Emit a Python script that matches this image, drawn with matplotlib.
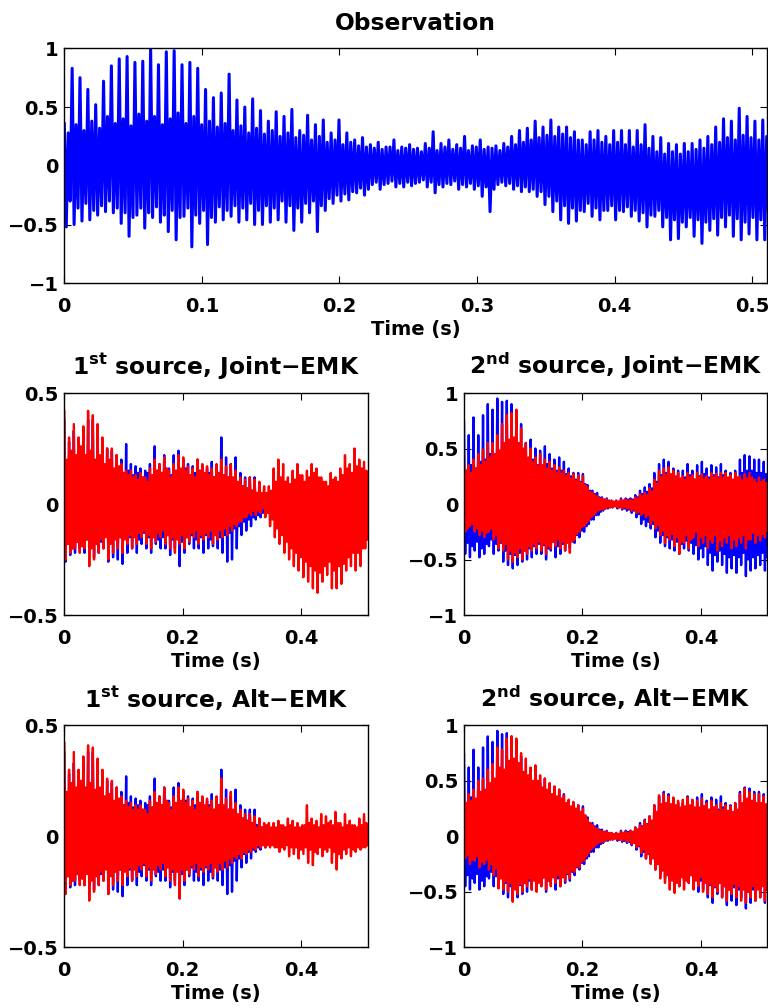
import numpy as np
import matplotlib.pyplot as plt
from matplotlib.ticker import FixedLocator, FuncFormatter

plt.rcParams['font.family'] = 'DejaVu Sans'
plt.rcParams['font.weight'] = 'bold'
plt.rcParams['font.size'] = 14
plt.rcParams['mathtext.fontset'] = 'dejavusans'

DUR = 0.512  # seconds of signal

# each series: per pitch period, main pulse tip (hi/lo) and secondary swing (hi2/lo2)

# ---- observation
obs_hi = [0.36, 0.83, 0.75, 0.65, 0.52, 0.72, 0.85, 0.91, 0.93, 0.88,
          0.89, 1.00, 0.86, 0.97, 0.98, 0.86, 0.88, 0.83, 0.65, 0.58,
          0.62, 0.78, 0.56, 0.50, 0.57, 0.47, 0.38, 0.46, 0.42, 0.48,
          0.30, 0.43, 0.35, 0.39, 0.28, 0.39, 0.28, 0.22, 0.24, 0.18,
          0.20, 0.16, 0.22, 0.16, 0.18, 0.15, 0.19, 0.29, 0.19, 0.22,
          0.18, 0.25, 0.17, 0.22, 0.16, 0.17, 0.19, 0.25, 0.30, 0.32,
          0.38, 0.33, 0.39, 0.33, 0.33, 0.29, 0.22, 0.29, 0.30, 0.25,
          0.30, 0.30, 0.30, 0.30, 0.35, 0.25, 0.24, 0.19, 0.18, 0.19,
          0.19, 0.22, 0.25, 0.33, 0.40, 0.38, 0.49, 0.42, 0.38, 0.39]
obs_lo = [-0.52, -0.50, -0.47, -0.46, -0.42, -0.39, -0.40, -0.49, -0.60, -0.42,
          -0.53, -0.44, -0.48, -0.56, -0.63, -0.43, -0.69, -0.49, -0.67, -0.48,
          -0.46, -0.43, -0.48, -0.46, -0.50, -0.50, -0.48, -0.46, -0.48, -0.55,
          -0.48, -0.40, -0.56, -0.38, -0.32, -0.30, -0.29, -0.23, -0.25, -0.16,
          -0.20, -0.15, -0.18, -0.18, -0.17, -0.14, -0.18, -0.23, -0.18, -0.16,
          -0.20, -0.18, -0.20, -0.26, -0.39, -0.16, -0.17, -0.20, -0.22, -0.22,
          -0.26, -0.33, -0.39, -0.46, -0.49, -0.47, -0.39, -0.43, -0.46, -0.38,
          -0.46, -0.39, -0.43, -0.47, -0.52, -0.43, -0.52, -0.63, -0.62, -0.52,
          -0.60, -0.66, -0.55, -0.59, -0.52, -0.60, -0.63, -0.58, -0.63, -0.63]
obs_hi2 = [0.28, 0.35, 0.30, 0.38, 0.32, 0.42, 0.36, 0.40, 0.34, 0.44,
           0.38, 0.42, 0.35, 0.40, 0.45, 0.36, 0.42, 0.35, 0.38, 0.33,
           0.36, 0.30, 0.34, 0.28, 0.32, 0.27, 0.30, 0.25, 0.28, 0.24,
           0.26, 0.22, 0.25, 0.20, 0.22, 0.18, 0.20, 0.17, 0.16, 0.15,
           0.14, 0.16, 0.13, 0.15, 0.14, 0.12, 0.15, 0.13, 0.16, 0.14,
           0.15, 0.13, 0.16, 0.14, 0.15, 0.13, 0.16, 0.18, 0.20, 0.22,
           0.24, 0.26, 0.25, 0.27, 0.24, 0.22, 0.18, 0.22, 0.20, 0.18,
           0.20, 0.18, 0.16, 0.18, 0.15, 0.12, 0.10, 0.12, 0.10, 0.12,
           0.14, 0.15, 0.18, 0.20, 0.24, 0.22, 0.26, 0.24, 0.22, 0.25]
obs_lo2 = [-0.30, -0.36, -0.32, -0.38, -0.34, -0.30, -0.36, -0.40, -0.44, -0.36,
           -0.40, -0.35, -0.42, -0.38, -0.44, -0.36, -0.42, -0.38, -0.44, -0.35,
           -0.38, -0.34, -0.36, -0.32, -0.38, -0.34, -0.36, -0.30, -0.34, -0.36,
           -0.32, -0.30, -0.34, -0.28, -0.25, -0.24, -0.22, -0.19, -0.20, -0.14,
           -0.16, -0.13, -0.15, -0.14, -0.15, -0.12, -0.14, -0.16, -0.15, -0.13,
           -0.16, -0.15, -0.17, -0.18, -0.20, -0.14, -0.15, -0.17, -0.18, -0.20,
           -0.22, -0.26, -0.30, -0.34, -0.36, -0.38, -0.32, -0.36, -0.38, -0.34,
           -0.38, -0.35, -0.38, -0.40, -0.42, -0.38, -0.44, -0.46, -0.48, -0.44,
           -0.46, -0.48, -0.45, -0.44, -0.42, -0.45, -0.48, -0.44, -0.46, -0.45]

# ---- true sources (blue)
src1_hi = [0.38, 0.28, 0.33, 0.28, 0.32, 0.38, 0.38, 0.32, 0.28, 0.25,
           0.24, 0.22, 0.20, 0.27, 0.18, 0.17, 0.16, 0.15, 0.18, 0.26,
           0.18, 0.22, 0.16, 0.22, 0.24, 0.20, 0.18, 0.17, 0.20, 0.17,
           0.16, 0.19, 0.17, 0.30, 0.21, 0.18, 0.21, 0.14, 0.12, 0.12,
           0.12, 0.08, 0.05, 0.03, 0.03, 0.04, 0.03, 0.04, 0.03, 0.03,
           0.04, 0.03, 0.04, 0.03, 0.03, 0.04, 0.03, 0.04, 0.03, 0.03,
           0.04, 0.03, 0.03, 0.04]
src1_lo = [-0.26, -0.23, -0.22, -0.20, -0.22, -0.22, -0.24, -0.22, -0.20, -0.26,
           -0.24, -0.25, -0.27, -0.22, -0.20, -0.22, -0.18, -0.20, -0.22, -0.18,
           -0.20, -0.20, -0.23, -0.20, -0.28, -0.22, -0.18, -0.20, -0.20, -0.22,
           -0.20, -0.19, -0.20, -0.22, -0.26, -0.25, -0.20, -0.14, -0.12, -0.10,
           -0.07, -0.06, -0.05, -0.04, -0.03, -0.04, -0.03, -0.04, -0.03, -0.03,
           -0.04, -0.03, -0.04, -0.03, -0.03, -0.04, -0.03, -0.04, -0.03, -0.03,
           -0.04, -0.03, -0.03, -0.04]
src1_hi2 = [0.18, 0.22, 0.20, 0.24, 0.20, 0.22, 0.18, 0.20, 0.16, 0.18,
            0.15, 0.16, 0.14, 0.15, 0.13, 0.14, 0.12, 0.14, 0.13, 0.15,
            0.14, 0.16, 0.13, 0.15, 0.14, 0.16, 0.13, 0.14, 0.15, 0.13,
            0.14, 0.12, 0.14, 0.13, 0.12, 0.10, 0.09, 0.08, 0.07, 0.06,
            0.05, 0.04, 0.03, 0.02, 0.02, 0.03, 0.02, 0.03, 0.02, 0.02,
            0.03, 0.02, 0.03, 0.02, 0.02, 0.03, 0.02, 0.03, 0.02, 0.02,
            0.03, 0.02, 0.02, 0.03]
src1_lo2 = [-0.18, -0.20, -0.17, -0.19, -0.16, -0.18, -0.15, -0.17, -0.14, -0.16,
            -0.14, -0.15, -0.13, -0.15, -0.14, -0.16, -0.13, -0.15, -0.14, -0.16,
            -0.15, -0.14, -0.16, -0.14, -0.17, -0.15, -0.14, -0.16, -0.15, -0.14,
            -0.16, -0.14, -0.15, -0.14, -0.13, -0.11, -0.10, -0.08, -0.07, -0.06,
            -0.05, -0.04, -0.03, -0.02, -0.02, -0.03, -0.02, -0.03, -0.02, -0.02,
            -0.03, -0.02, -0.03, -0.02, -0.02, -0.03, -0.02, -0.03, -0.02, -0.02,
            -0.03, -0.02, -0.02, -0.03]

src2_hi = [0.74, 0.62, 0.78, 0.62, 0.80, 0.90, 0.85, 0.95, 0.92, 0.93,
           0.90, 0.82, 0.72, 0.55, 0.58, 0.50, 0.48, 0.52, 0.45, 0.40,
           0.42, 0.38, 0.32, 0.28, 0.28, 0.27, 0.17, 0.12, 0.10, 0.06,
           0.05, 0.03, 0.03, 0.05, 0.05, 0.05, 0.08, 0.12, 0.15, 0.18,
           0.28, 0.36, 0.40, 0.38, 0.32, 0.30, 0.30, 0.36, 0.30, 0.35,
           0.38, 0.32, 0.35, 0.33, 0.36, 0.30, 0.28, 0.30, 0.40, 0.44,
           0.43, 0.40, 0.40, 0.38]
src2_lo = [-0.45, -0.48, -0.42, -0.48, -0.45, -0.38, -0.45, -0.42, -0.52, -0.55,
           -0.58, -0.55, -0.52, -0.50, -0.48, -0.45, -0.45, -0.50, -0.42, -0.48,
           -0.45, -0.42, -0.40, -0.35, -0.30, -0.25, -0.18, -0.14, -0.10, -0.06,
           -0.04, -0.03, -0.04, -0.05, -0.06, -0.08, -0.12, -0.18, -0.20, -0.22,
           -0.30, -0.35, -0.38, -0.40, -0.42, -0.45, -0.40, -0.42, -0.45, -0.50,
           -0.48, -0.55, -0.60, -0.52, -0.55, -0.62, -0.58, -0.62, -0.55, -0.65,
           -0.60, -0.58, -0.55, -0.60]
src2_hi2 = [0.30, 0.35, 0.32, 0.38, 0.40, 0.45, 0.42, 0.48, 0.45, 0.50,
            0.48, 0.45, 0.42, 0.38, 0.40, 0.35, 0.34, 0.36, 0.32, 0.30,
            0.30, 0.27, 0.25, 0.22, 0.20, 0.18, 0.12, 0.09, 0.06, 0.04,
            0.03, 0.02, 0.02, 0.03, 0.04, 0.04, 0.06, 0.09, 0.11, 0.14,
            0.20, 0.26, 0.28, 0.26, 0.24, 0.22, 0.24, 0.26, 0.22, 0.25,
            0.27, 0.24, 0.26, 0.24, 0.26, 0.22, 0.21, 0.23, 0.28, 0.30,
            0.30, 0.28, 0.28, 0.27]
src2_lo2 = [-0.35, -0.38, -0.34, -0.40, -0.36, -0.32, -0.36, -0.35, -0.42, -0.45,
            -0.46, -0.44, -0.42, -0.40, -0.38, -0.36, -0.37, -0.40, -0.34, -0.38,
            -0.36, -0.34, -0.32, -0.28, -0.24, -0.20, -0.14, -0.10, -0.07, -0.04,
            -0.03, -0.02, -0.03, -0.04, -0.05, -0.06, -0.09, -0.14, -0.16, -0.18,
            -0.24, -0.28, -0.30, -0.32, -0.34, -0.36, -0.33, -0.35, -0.37, -0.40,
            -0.38, -0.44, -0.46, -0.42, -0.45, -0.48, -0.46, -0.48, -0.44, -0.50,
            -0.48, -0.46, -0.44, -0.48]

# ---- estimates (red), Joint-EMK
joint1_hi = [0.42, 0.30, 0.36, 0.30, 0.35, 0.42, 0.40, 0.36, 0.30, 0.25,
             0.25, 0.22, 0.18, 0.15, 0.15, 0.13, 0.14, 0.12, 0.16, 0.20,
             0.18, 0.21, 0.15, 0.18, 0.22, 0.21, 0.17, 0.16, 0.20, 0.18,
             0.17, 0.16, 0.18, 0.20, 0.17, 0.18, 0.15, 0.12, 0.11, 0.12,
             0.11, 0.10, 0.08, 0.08, 0.16, 0.20, 0.18, 0.12, 0.15, 0.18,
             0.13, 0.15, 0.18, 0.16, 0.12, 0.10, 0.14, 0.12, 0.16, 0.22,
             0.18, 0.25, 0.20, 0.19]
joint1_lo = [-0.25, -0.22, -0.20, -0.22, -0.20, -0.28, -0.25, -0.22, -0.20, -0.25,
             -0.22, -0.20, -0.22, -0.18, -0.20, -0.18, -0.15, -0.18, -0.20, -0.17,
             -0.15, -0.18, -0.20, -0.22, -0.18, -0.20, -0.17, -0.15, -0.18, -0.16,
             -0.15, -0.18, -0.16, -0.15, -0.14, -0.12, -0.10, -0.08, -0.06, -0.05,
             -0.05, -0.04, -0.06, -0.10, -0.15, -0.18, -0.22, -0.25, -0.28, -0.30,
             -0.33, -0.35, -0.38, -0.40, -0.35, -0.32, -0.38, -0.38, -0.36, -0.30,
             -0.28, -0.30, -0.28, -0.20]
joint1_hi2 = [0.20, 0.24, 0.22, 0.26, 0.22, 0.24, 0.20, 0.22, 0.18, 0.20,
              0.16, 0.17, 0.14, 0.13, 0.12, 0.11, 0.12, 0.10, 0.13, 0.15,
              0.14, 0.16, 0.12, 0.15, 0.16, 0.15, 0.13, 0.12, 0.15, 0.14,
              0.13, 0.12, 0.14, 0.13, 0.12, 0.12, 0.10, 0.08, 0.07, 0.06,
              0.05, 0.05, 0.05, 0.06, 0.10, 0.12, 0.10, 0.09, 0.11, 0.13,
              0.10, 0.12, 0.14, 0.12, 0.10, 0.08, 0.11, 0.10, 0.13, 0.16,
              0.14, 0.17, 0.16, 0.15]
joint1_lo2 = [-0.18, -0.20, -0.17, -0.19, -0.16, -0.20, -0.18, -0.16, -0.15, -0.18,
              -0.16, -0.15, -0.16, -0.14, -0.15, -0.13, -0.12, -0.14, -0.15, -0.13,
              -0.12, -0.14, -0.15, -0.16, -0.14, -0.15, -0.13, -0.12, -0.14, -0.13,
              -0.12, -0.14, -0.12, -0.11, -0.10, -0.09, -0.08, -0.06, -0.04, -0.03,
              -0.03, -0.02, -0.04, -0.07, -0.11, -0.14, -0.17, -0.20, -0.22, -0.24,
              -0.26, -0.28, -0.30, -0.31, -0.28, -0.26, -0.30, -0.28, -0.27, -0.24,
              -0.22, -0.22, -0.20, -0.16]

joint2_hi = [0.41, 0.35, 0.40, 0.45, 0.49, 0.55, 0.55, 0.62, 0.72, 0.80,
             0.82, 0.85, 0.68, 0.55, 0.50, 0.42, 0.45, 0.40, 0.38, 0.35,
             0.33, 0.30, 0.28, 0.27, 0.26, 0.25, 0.15, 0.10, 0.07, 0.05,
             0.04, 0.03, 0.03, 0.04, 0.04, 0.04, 0.06, 0.09, 0.10, 0.14,
             0.22, 0.30, 0.32, 0.33, 0.30, 0.28, 0.25, 0.28, 0.26, 0.28,
             0.27, 0.25, 0.28, 0.27, 0.28, 0.28, 0.26, 0.28, 0.25, 0.27,
             0.28, 0.22, 0.24, 0.22]
joint2_lo = [-0.25, -0.20, -0.25, -0.28, -0.30, -0.25, -0.32, -0.40, -0.42, -0.50,
             -0.52, -0.48, -0.50, -0.45, -0.42, -0.40, -0.42, -0.45, -0.40, -0.38,
             -0.40, -0.42, -0.44, -0.32, -0.25, -0.20, -0.15, -0.10, -0.06, -0.05,
             -0.03, -0.03, -0.03, -0.04, -0.04, -0.06, -0.08, -0.10, -0.12, -0.18,
             -0.22, -0.28, -0.35, -0.32, -0.38, -0.45, -0.35, -0.40, -0.30, -0.38,
             -0.35, -0.40, -0.35, -0.42, -0.38, -0.35, -0.40, -0.38, -0.35, -0.40,
             -0.32, -0.35, -0.33, -0.30]
joint2_hi2 = [0.30, 0.28, 0.32, 0.35, 0.38, 0.42, 0.45, 0.48, 0.55, 0.58,
              0.60, 0.55, 0.50, 0.42, 0.38, 0.34, 0.35, 0.32, 0.30, 0.28,
              0.27, 0.25, 0.23, 0.21, 0.19, 0.17, 0.11, 0.08, 0.05, 0.04,
              0.03, 0.02, 0.02, 0.03, 0.03, 0.03, 0.05, 0.07, 0.08, 0.11,
              0.18, 0.24, 0.26, 0.27, 0.25, 0.23, 0.22, 0.24, 0.22, 0.24,
              0.23, 0.22, 0.24, 0.23, 0.24, 0.24, 0.22, 0.24, 0.21, 0.23,
              0.24, 0.19, 0.20, 0.19]
joint2_lo2 = [-0.22, -0.18, -0.22, -0.24, -0.26, -0.22, -0.28, -0.34, -0.36, -0.42,
              -0.44, -0.40, -0.42, -0.38, -0.36, -0.34, -0.36, -0.38, -0.34, -0.32,
              -0.34, -0.35, -0.34, -0.27, -0.21, -0.17, -0.12, -0.08, -0.05, -0.04,
              -0.03, -0.02, -0.03, -0.03, -0.04, -0.05, -0.07, -0.08, -0.10, -0.15,
              -0.19, -0.24, -0.28, -0.27, -0.30, -0.34, -0.28, -0.32, -0.25, -0.30,
              -0.28, -0.32, -0.28, -0.33, -0.30, -0.28, -0.32, -0.30, -0.28, -0.32,
              -0.26, -0.28, -0.27, -0.24]

# ---- estimates (red), Alt-EMK
alt1_hi = [0.42, 0.30, 0.38, 0.30, 0.36, 0.41, 0.40, 0.35, 0.30, 0.26,
           0.25, 0.22, 0.18, 0.16, 0.15, 0.14, 0.14, 0.12, 0.16, 0.20,
           0.18, 0.22, 0.15, 0.18, 0.22, 0.21, 0.17, 0.16, 0.20, 0.18,
           0.17, 0.16, 0.18, 0.26, 0.17, 0.20, 0.15, 0.12, 0.10, 0.10,
           0.09, 0.08, 0.06, 0.06, 0.06, 0.07, 0.05, 0.08, 0.07, 0.06,
           0.05, 0.14, 0.08, 0.07, 0.10, 0.09, 0.07, 0.11, 0.06, 0.10,
           0.07, 0.05, 0.08, 0.10]
alt1_lo = [-0.26, -0.22, -0.20, -0.22, -0.22, -0.29, -0.25, -0.22, -0.20, -0.26,
           -0.22, -0.20, -0.22, -0.18, -0.20, -0.18, -0.15, -0.18, -0.20, -0.17,
           -0.15, -0.18, -0.20, -0.22, -0.28, -0.20, -0.17, -0.15, -0.18, -0.16,
           -0.15, -0.18, -0.16, -0.15, -0.14, -0.12, -0.10, -0.10, -0.08, -0.07,
           -0.06, -0.05, -0.05, -0.05, -0.05, -0.07, -0.06, -0.09, -0.08, -0.10,
           -0.08, -0.12, -0.13, -0.08, -0.09, -0.07, -0.12, -0.15, -0.10, -0.08,
           -0.09, -0.07, -0.06, -0.05]
alt1_hi2 = [0.20, 0.24, 0.22, 0.25, 0.22, 0.24, 0.21, 0.22, 0.18, 0.19,
            0.16, 0.17, 0.14, 0.13, 0.12, 0.12, 0.12, 0.10, 0.13, 0.15,
            0.14, 0.16, 0.12, 0.15, 0.16, 0.15, 0.13, 0.12, 0.15, 0.14,
            0.13, 0.12, 0.14, 0.14, 0.12, 0.12, 0.10, 0.08, 0.07, 0.06,
            0.04, 0.04, 0.05, 0.04, 0.04, 0.05, 0.04, 0.05, 0.04, 0.04,
            0.05, 0.06, 0.05, 0.04, 0.05, 0.06, 0.05, 0.06, 0.04, 0.05,
            0.05, 0.04, 0.05, 0.06]
alt1_lo2 = [-0.18, -0.20, -0.17, -0.19, -0.17, -0.20, -0.18, -0.16, -0.15, -0.18,
            -0.16, -0.15, -0.16, -0.14, -0.15, -0.13, -0.12, -0.14, -0.15, -0.13,
            -0.12, -0.14, -0.15, -0.16, -0.15, -0.15, -0.13, -0.12, -0.14, -0.13,
            -0.12, -0.14, -0.12, -0.11, -0.10, -0.09, -0.08, -0.07, -0.06, -0.05,
            -0.04, -0.04, -0.04, -0.04, -0.05, -0.05, -0.04, -0.05, -0.05, -0.06,
            -0.05, -0.06, -0.07, -0.05, -0.06, -0.05, -0.07, -0.08, -0.06, -0.05,
            -0.06, -0.05, -0.05, -0.04]

alt2_hi = [0.42, 0.38, 0.42, 0.50, 0.52, 0.60, 0.65, 0.80, 0.78, 0.88,
           0.90, 0.88, 0.75, 0.70, 0.62, 0.64, 0.55, 0.52, 0.48, 0.45,
           0.42, 0.37, 0.33, 0.31, 0.28, 0.25, 0.15, 0.10, 0.07, 0.05,
           0.04, 0.03, 0.03, 0.04, 0.04, 0.05, 0.08, 0.10, 0.14, 0.18,
           0.28, 0.37, 0.38, 0.36, 0.35, 0.32, 0.33, 0.35, 0.33, 0.32,
           0.34, 0.30, 0.32, 0.28, 0.30, 0.28, 0.27, 0.30, 0.38, 0.43,
           0.40, 0.38, 0.38, 0.36]
alt2_lo = [-0.20, -0.25, -0.22, -0.28, -0.25, -0.30, -0.35, -0.47, -0.48, -0.50,
           -0.59, -0.52, -0.50, -0.45, -0.48, -0.50, -0.45, -0.48, -0.45, -0.42,
           -0.45, -0.40, -0.38, -0.32, -0.28, -0.22, -0.15, -0.10, -0.06, -0.05,
           -0.03, -0.03, -0.03, -0.04, -0.05, -0.07, -0.10, -0.15, -0.20, -0.25,
           -0.30, -0.38, -0.42, -0.48, -0.51, -0.45, -0.48, -0.42, -0.48, -0.45,
           -0.50, -0.52, -0.55, -0.50, -0.55, -0.58, -0.52, -0.55, -0.58, -0.60,
           -0.55, -0.58, -0.55, -0.58]
alt2_hi2 = [0.30, 0.32, 0.34, 0.40, 0.42, 0.48, 0.52, 0.62, 0.60, 0.68,
            0.70, 0.66, 0.58, 0.55, 0.50, 0.50, 0.44, 0.42, 0.38, 0.36,
            0.34, 0.30, 0.27, 0.25, 0.22, 0.19, 0.12, 0.08, 0.05, 0.04,
            0.03, 0.02, 0.02, 0.03, 0.03, 0.04, 0.06, 0.08, 0.11, 0.14,
            0.22, 0.29, 0.30, 0.29, 0.28, 0.26, 0.27, 0.28, 0.26, 0.26,
            0.27, 0.24, 0.26, 0.23, 0.24, 0.23, 0.22, 0.24, 0.30, 0.34,
            0.32, 0.30, 0.30, 0.29]
alt2_lo2 = [-0.17, -0.21, -0.18, -0.23, -0.21, -0.25, -0.29, -0.38, -0.40, -0.42,
            -0.48, -0.43, -0.42, -0.38, -0.40, -0.42, -0.37, -0.40, -0.37, -0.35,
            -0.37, -0.33, -0.31, -0.27, -0.23, -0.18, -0.12, -0.08, -0.05, -0.04,
            -0.03, -0.02, -0.03, -0.03, -0.04, -0.06, -0.08, -0.12, -0.16, -0.20,
            -0.25, -0.31, -0.35, -0.40, -0.42, -0.37, -0.40, -0.35, -0.40, -0.37,
            -0.42, -0.43, -0.45, -0.42, -0.45, -0.48, -0.43, -0.45, -0.48, -0.50,
            -0.45, -0.48, -0.45, -0.48]


def draw_wave(ax, hi, lo, hi2, lo2, color, lw):
    # four swings per pitch period: pulse up, pulse down, then the smaller swing
    n = len(hi)
    t = np.linspace(0, DUR, 4 * n)
    y = np.empty(4 * n)
    y[0::4] = hi
    y[1::4] = lo
    y[2::4] = hi2
    y[3::4] = lo2
    ax.plot(t, y, color=color, lw=lw)


def fmt(v, pos):
    s = '%g' % v
    return s.replace('-', '\u2212')


def style(ax, xticks, yticks, xmax, title):
    ax.set_xlim(0, xmax)
    ax.set_ylim(yticks[0], yticks[-1])
    ax.xaxis.set_major_locator(FixedLocator(xticks))
    ax.yaxis.set_major_locator(FixedLocator(yticks))
    ax.xaxis.set_major_formatter(FuncFormatter(fmt))
    ax.yaxis.set_major_formatter(FuncFormatter(fmt))
    ax.tick_params(direction='in', top=True, right=True, length=5, width=0.8)
    ax.tick_params(axis='x', pad=10)
    ax.tick_params(axis='y', pad=4)
    for sp in ax.spines.values():
        sp.set_linewidth(1.0)
    ax.set_xlabel('Time (s)', fontweight='bold', labelpad=3)
    ax.set_title(title, fontweight='bold', pad=13.5)


fig = plt.figure(figsize=(7.68, 10.08), dpi=100)

W, H = 768.0, 1008.0
ax0 = fig.add_axes([64.3 / W, 1 - 283.3 / H, 702.3 / W, 235.0 / H])
draw_wave(ax0, obs_hi, obs_lo, obs_hi2, obs_lo2, 'blue', 2.2)
style(ax0, [0, 0.1, 0.2, 0.3, 0.4, 0.5], [-1, -0.5, 0, 0.5, 1], 0.5105, 'Observation')

panels = [
    (64.3, 615.0, (src1_hi, src1_lo, src1_hi2, src1_lo2),
     (joint1_hi, joint1_lo, joint1_hi2, joint1_lo2),
     [-0.5, 0, 0.5], r'1$^{\mathbf{st}}$ source, Joint' + '\u2212EMK'),
    (464.0, 615.0, (src2_hi, src2_lo, src2_hi2, src2_lo2),
     (joint2_hi, joint2_lo, joint2_hi2, joint2_lo2),
     [-1, -0.5, 0, 0.5, 1], r'2$^{\mathbf{nd}}$ source, Joint' + '\u2212EMK'),
    (64.3, 947.3, (src1_hi, src1_lo, src1_hi2, src1_lo2),
     (alt1_hi, alt1_lo, alt1_hi2, alt1_lo2),
     [-0.5, 0, 0.5], r'1$^{\mathbf{st}}$ source, Alt' + '\u2212EMK'),
    (464.0, 947.3, (src2_hi, src2_lo, src2_hi2, src2_lo2),
     (alt2_hi, alt2_lo, alt2_hi2, alt2_lo2),
     [-1, -0.5, 0, 0.5, 1], r'2$^{\mathbf{nd}}$ source, Alt' + '\u2212EMK'),
]

for x0, ybot, true_src, est_src, yt, title in panels:
    ax = fig.add_axes([x0 / W, 1 - ybot / H, 303.3 / W, 222.0 / H])
    draw_wave(ax, *true_src, 'blue', 1.7)
    draw_wave(ax, *est_src, 'red', 1.7)
    style(ax, [0, 0.2, 0.4], yt, DUR, title)

fig.savefig('out.png', dpi=100)
